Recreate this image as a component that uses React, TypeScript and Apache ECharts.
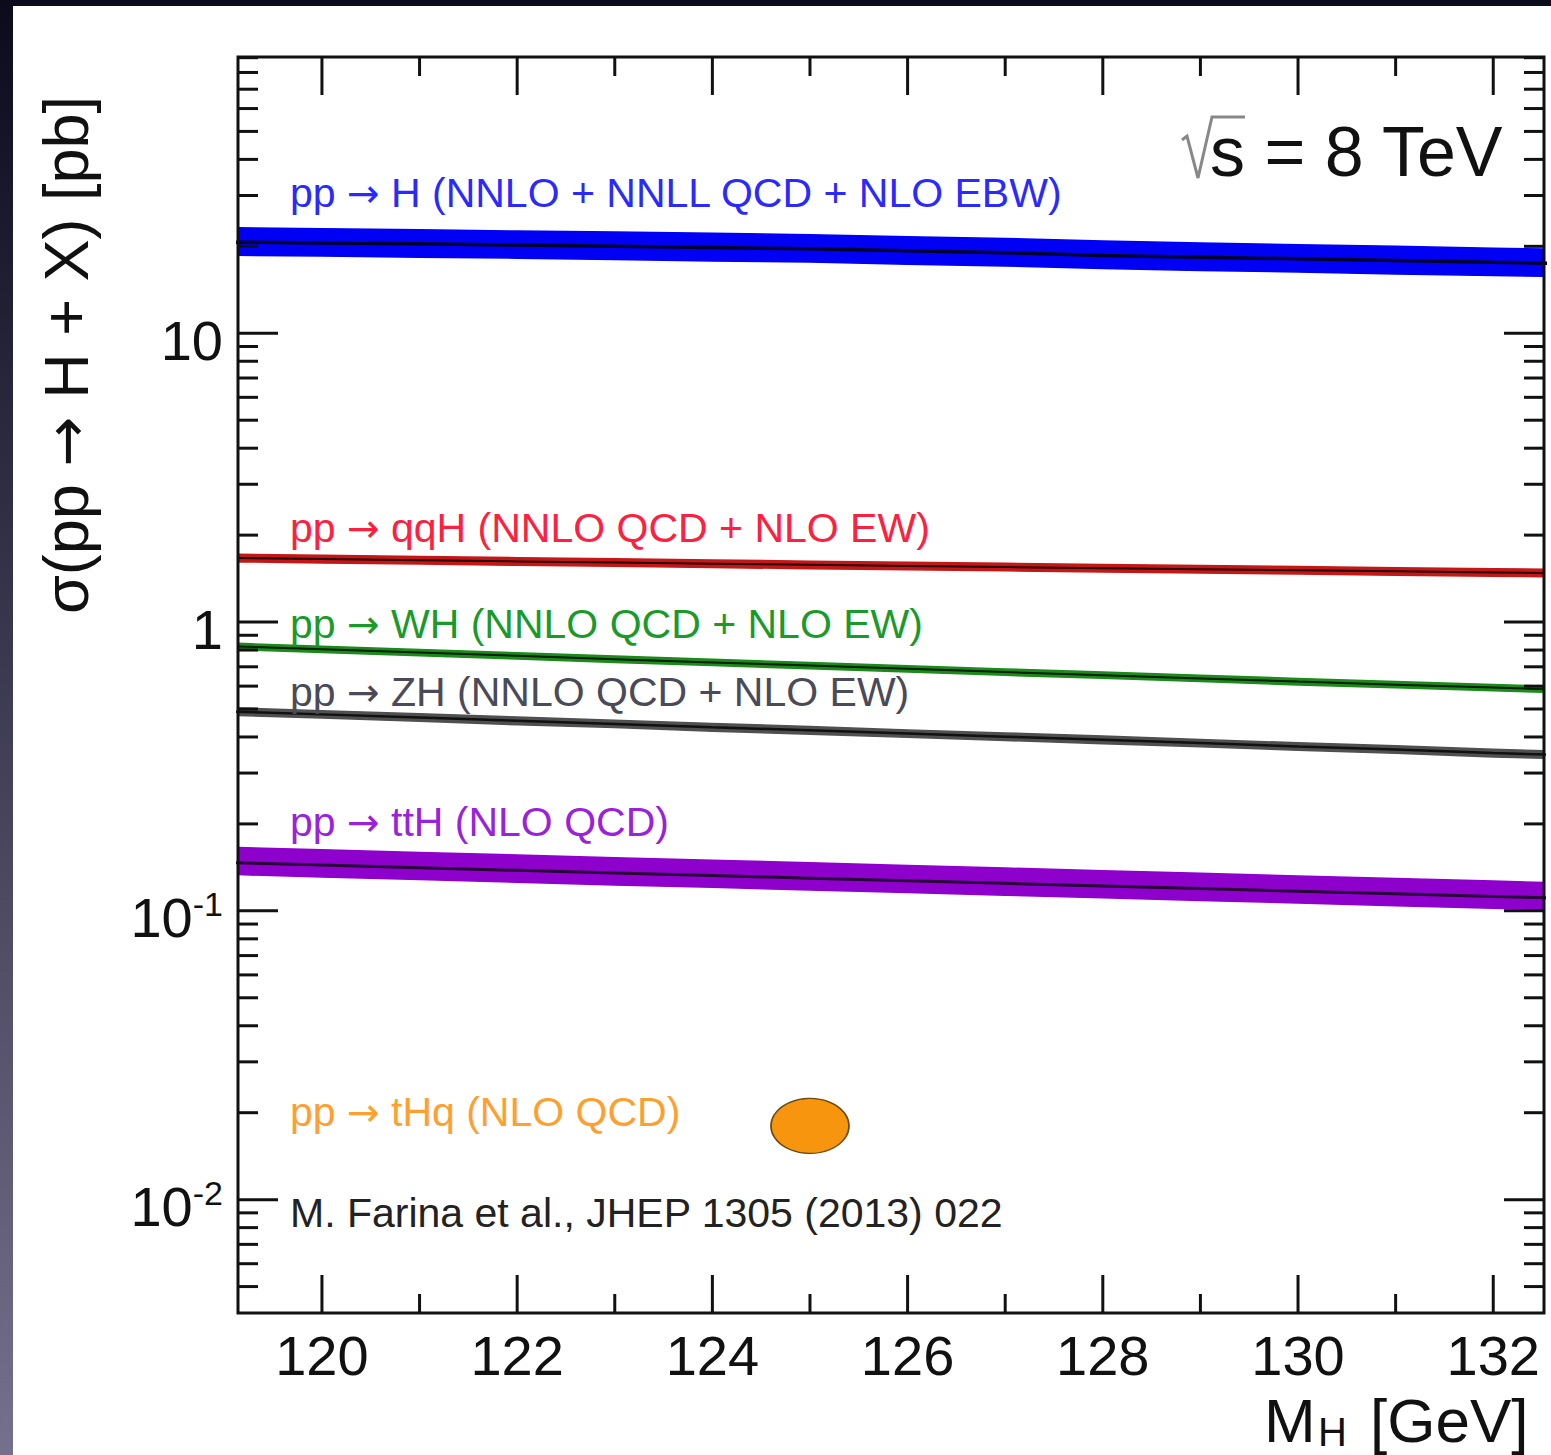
import React, { useEffect, useRef } from "react";
import * as echarts from "echarts";

const FONT = '"Liberation Sans", Arial, Helvetica, sans-serif';
const ARROW_FONT = '"DejaVu Sans", sans-serif';

// Higgs mass points [GeV]
const masses = [119, 120, 121, 122, 123, 124, 125, 126, 127, 128, 129, 130, 131, 132, 133];

// pp -> H (gluon fusion) [pb]
const ggH = [20.7, 20.55, 20.4, 20.2, 20.0, 19.8, 19.6, 19.3, 19.0, 18.6, 18.35, 18.1, 17.85, 17.6, 17.4];
const ggHUp = [23.2, 23.0, 22.85, 22.6, 22.4, 22.2, 21.95, 21.6, 21.3, 20.85, 20.55, 20.25, 20.0, 19.7, 19.5];
const ggHDown = [18.65, 18.5, 18.35, 18.2, 18.0, 17.8, 17.65, 17.35, 17.1, 16.75, 16.5, 16.3, 16.05, 15.85, 15.65];

// pp -> qqH [pb]
const qqH = [1.668, 1.652, 1.637, 1.622, 1.607, 1.592, 1.578, 1.564, 1.551, 1.537, 1.524, 1.511, 1.498, 1.486, 1.474];
const qqHUp = [1.718, 1.702, 1.686, 1.671, 1.655, 1.64, 1.625, 1.611, 1.598, 1.583, 1.57, 1.556, 1.543, 1.531, 1.518];
const qqHDown = [1.618, 1.602, 1.588, 1.573, 1.559, 1.544, 1.531, 1.517, 1.504, 1.491, 1.478, 1.466, 1.453, 1.441, 1.43];

// pp -> WH [pb]
const WH = [0.826, 0.805, 0.784, 0.764, 0.744, 0.725, 0.707, 0.689, 0.671, 0.655, 0.638, 0.622, 0.607, 0.593, 0.579];
const WHUp = [0.847, 0.825, 0.804, 0.783, 0.763, 0.743, 0.725, 0.706, 0.688, 0.671, 0.654, 0.638, 0.622, 0.608, 0.593];
const WHDown = [0.805, 0.785, 0.764, 0.745, 0.725, 0.707, 0.689, 0.672, 0.654, 0.639, 0.622, 0.606, 0.592, 0.578, 0.565];

// pp -> ZH [pb]
const ZH = [0.491, 0.479, 0.467, 0.455, 0.444, 0.432, 0.422, 0.411, 0.401, 0.391, 0.381, 0.371, 0.362, 0.352, 0.344];
const ZHUp = [0.506, 0.493, 0.481, 0.469, 0.457, 0.445, 0.435, 0.423, 0.413, 0.403, 0.392, 0.382, 0.373, 0.363, 0.354];
const ZHDown = [0.476, 0.465, 0.453, 0.441, 0.431, 0.419, 0.409, 0.399, 0.389, 0.379, 0.37, 0.36, 0.351, 0.341, 0.334];

// pp -> ttH [pb]
const ttH = [0.1471, 0.144, 0.141, 0.1381, 0.1352, 0.1325, 0.1298, 0.1271, 0.1245, 0.1219, 0.1194, 0.1169, 0.1145, 0.1122, 0.1099];
const ttHUp = [0.1662, 0.1627, 0.1593, 0.1561, 0.1528, 0.1497, 0.1467, 0.1436, 0.1407, 0.1377, 0.1349, 0.1321, 0.1294, 0.1268, 0.1242];
const ttHDown = [0.1339, 0.131, 0.1283, 0.1257, 0.123, 0.1206, 0.1181, 0.1157, 0.1133, 0.1109, 0.1087, 0.1064, 0.1042, 0.1021, 0.1];

// pp -> tHq single point [GeV, pb]
const tHq = [[125, 0.018]];

// axes
const X_MIN = 119.14;
const X_MAX = 132.52;
const Y_MIN = 0.00405;
const Y_MAX = 90.5;
const xMajorTicks = [120, 122, 124, 126, 128, 130, 132];
const xTickLabels = ["120", "122", "124", "126", "128", "130", "132"];
const xMinorTicks = [121, 123, 125, 127, 129, 131];
const yMajorTicks = [0.01, 0.1, 1, 10];
const yTickBase = ["10", "10", "1", "10"];
const yTickExp = ["-2", "-1", "", ""];
const yMinorTicks = [
  0.005, 0.006, 0.007, 0.008, 0.009,
  0.02, 0.03, 0.04, 0.05, 0.06, 0.07, 0.08, 0.09,
  0.2, 0.3, 0.4, 0.5, 0.6, 0.7, 0.8, 0.9,
  2, 3, 4, 5, 6, 7, 8, 9,
  20, 30, 40, 50, 60, 70, 80, 90,
];

const TICK = "#111";

function bandSeries(name: string, up: number[], down: number[], fill: string) {
  return {
    type: "custom",
    name,
    z: 2,
    clip: true,
    silent: true,
    data: masses.map((m, i) => [m, up[i]]),
    renderItem: (params: any, api: any) => {
      if (params.dataIndex !== 0) return null;
      const pts: number[][] = [];
      for (let i = 0; i < masses.length; i++) pts.push(api.coord([masses[i], up[i]]));
      for (let i = masses.length - 1; i >= 0; i--) pts.push(api.coord([masses[i], down[i]]));
      return {
        type: "polygon",
        shape: { points: pts },
        style: { fill, stroke: fill, lineWidth: 1.5, opacity: 1 },
      };
    },
  };
}

function centralLine(name: string, vals: number[], color: string, width: number) {
  return {
    type: "line",
    name,
    z: 3,
    silent: true,
    symbol: "none",
    clip: true,
    data: masses.map((m, i) => [m, vals[i]]),
    lineStyle: { color, width },
  };
}

function xTickSeries(values: number[], len: number, withLabels: boolean) {
  return {
    type: "custom",
    z: 6,
    silent: true,
    data: values.map((v) => [v, 1]),
    renderItem: (params: any, api: any) => {
      const cs = params.coordSys;
      const x = api.coord([api.value(0), 1])[0];
      const b = cs.y + cs.height;
      const t = cs.y;
      const children: any[] = [
        { type: "line", shape: { x1: x, y1: b, x2: x, y2: b - len }, style: { stroke: TICK, lineWidth: 3 } },
        { type: "line", shape: { x1: x, y1: t, x2: x, y2: t + len }, style: { stroke: TICK, lineWidth: 3 } },
      ];
      if (withLabels) {
        children.push({
          type: "text",
          style: {
            text: xTickLabels[params.dataIndex],
            x,
            y: b + 42,
            align: "center",
            verticalAlign: "middle",
            fontSize: 56,
            lineHeight: 56,
            fontFamily: FONT,
            fill: "#111",
          },
        });
      }
      return { type: "group", children };
    },
  };
}

function yTickSeries(values: number[], len: number, withLabels: boolean) {
  return {
    type: "custom",
    z: 6,
    silent: true,
    data: values.map((v) => [X_MIN, v]),
    renderItem: (params: any, api: any) => {
      const cs = params.coordSys;
      const y = api.coord([X_MIN, api.value(1)])[1];
      const l = cs.x;
      const r = cs.x + cs.width;
      const children: any[] = [
        { type: "line", shape: { x1: l, y1: y, x2: l + len, y2: y }, style: { stroke: TICK, lineWidth: 3 } },
        { type: "line", shape: { x1: r, y1: y, x2: r - len, y2: y }, style: { stroke: TICK, lineWidth: 3 } },
      ];
      if (withLabels) {
        const i = params.dataIndex;
        const exp = yTickExp[i];
        children.push({
          type: "text",
          style: {
            text: exp ? `{b|${yTickBase[i]}}{s|${exp}}` : `{b|${yTickBase[i]}}`,
            rich: {
              b: { fontSize: 56, fontFamily: FONT, fill: "#111", lineHeight: 62 },
              s: { fontSize: 34, fontFamily: FONT, fill: "#111", verticalAlign: "top", lineHeight: 40 },
            },
            x: l - 15,
            y: y + 7,
            align: "right",
            verticalAlign: "middle",
            fill: "#111",
          },
        });
      }
      return { type: "group", children };
    },
  };
}

// process label: "pp → <rest>" with a wider arrow glyph
function procLabel(rest: string, y: number, fill: string, size = 41) {
  return {
    type: "text",
    x: 290,
    y,
    z: 20,
    silent: true,
    style: {
      text: `{t|pp }{a|→}{t| ${rest}}`,
      rich: {
        t: { fontSize: size, fontFamily: FONT, fill },
        a: { fontSize: size * 0.95, fontFamily: ARROW_FONT, fill },
      },
      fill,
      align: "left",
      verticalAlign: "middle",
    },
  };
}

function label(text: string, x: number, y: number, fill: string, size = 41) {
  return {
    type: "text",
    x,
    y,
    z: 20,
    silent: true,
    style: { text, fill, fontSize: size, lineHeight: size, fontFamily: FONT, align: "left", verticalAlign: "middle" },
  };
}

export default function App() {
  const ref = useRef<HTMLDivElement>(null);

  useEffect(() => {
    if (!ref.current) return;
    const chart = echarts.init(ref.current, undefined, { renderer: "svg" });
    const option: any = {
      animation: false,
      backgroundColor: "transparent",
      grid: { left: 238, top: 57, right: 7, bottom: 142, show: false },
      xAxis: {
        type: "value",
        min: X_MIN,
        max: X_MAX,
        axisLine: { show: false },
        axisTick: { show: false },
        axisLabel: { show: false },
        splitLine: { show: false },
      },
      yAxis: {
        type: "log",
        logBase: 10,
        min: Y_MIN,
        max: Y_MAX,
        axisLine: { show: false },
        axisTick: { show: false },
        axisLabel: { show: false },
        splitLine: { show: false },
        minorTick: { show: false },
      },
      series: [
        bandSeries("ggH band", ggHUp, ggHDown, "#0000f5"),
        bandSeries("qqH band", qqHUp, qqHDown, "#c41818"),
        bandSeries("WH band", WHUp, WHDown, "#1e8a1e"),
        bandSeries("ZH band", ZHUp, ZHDown, "#505050"),
        bandSeries("ttH band", ttHUp, ttHDown, "#8e00cc"),
        centralLine("ggH", ggH, "#000030", 3.5),
        centralLine("qqH", qqH, "#2a0000", 2),
        centralLine("WH", WH, "#002000", 2),
        centralLine("ZH", ZH, "#111111", 2.5),
        centralLine("ttH", ttH, "#2a0038", 3),
        {
          type: "scatter",
          name: "tHq",
          z: 4,
          silent: true,
          data: tHq,
          symbol: "circle",
          symbolSize: [78, 55],
          itemStyle: { color: "#f7960e", borderColor: "#6b4a10", borderWidth: 1.5, opacity: 1 },
        },
        xTickSeries(xMajorTicks, 38, true),
        xTickSeries(xMinorTicks, 19, false),
        yTickSeries(yMajorTicks, 40, true),
        yTickSeries(yMinorTicks, 20, false),
      ],
      graphic: [
        {
          type: "rect",
          z: 30,
          silent: true,
          shape: { x: 238, y: 57, width: 1306, height: 1256 },
          style: { fill: "none", stroke: "#111", lineWidth: 3 },
        },
        procLabel("H (NNLO + NNLL QCD + NLO EBW)", 193, "#2a2aff"),
        procLabel("qqH (NNLO QCD + NLO EW)", 528, "#ff2040"),
        procLabel("WH (NNLO QCD + NLO EW)", 624, "#1a9a2a"),
        procLabel("ZH (NNLO QCD + NLO EW)", 692, "#4a4a58"),
        procLabel("ttH (NLO QCD)", 822, "#9a22dd"),
        procLabel("tHq (NLO QCD)", 1112, "#ff9f30"),
        label("M. Farina et al., JHEP 1305 (2013) 022", 290, 1213, "#222"),
        {
          type: "text",
          x: 66,
          y: 355,
          rotation: Math.PI / 2,
          z: 20,
          silent: true,
          style: {
            text: "{t|σ(pp }{a|→}{t| H + X) [pb]}",
            rich: {
              t: { fontSize: 63, fontFamily: FONT, fill: "#111" },
              a: { fontSize: 60, fontFamily: ARROW_FONT, fill: "#111" },
            },
            fill: "#111",
            align: "center",
            verticalAlign: "middle",
          },
        },
        {
          type: "polyline",
          z: 20,
          silent: true,
          shape: { points: [[1182, 140], [1187, 136], [1198, 178], [1212, 117], [1245, 117]] },
          style: { stroke: "#888", lineWidth: 3, fill: "none" },
        },
        label("s = 8 TeV", 1210, 152, "#111", 70),
        label("M", 1264, 1420, "#111", 62),
        label("H", 1318, 1432, "#111", 40),
        label("[GeV]", 1370, 1420, "#111", 62),
      ],
    };
    chart.setOption(option);
    return () => chart.dispose();
  }, []);

  return (
    <div
      style={{
        position: "absolute",
        left: 0,
        top: 0,
        width: 1551,
        height: 1455,
        overflow: "hidden",
        background: "linear-gradient(to bottom, #0b0b1c, #75708c)",
      }}
    >
      <div style={{ position: "absolute", left: 13, top: 6, right: 0, bottom: 0, background: "#ffffff" }} />
      <div ref={ref} style={{ position: "absolute", left: 0, top: 0, width: 1551, height: 1455 }} />
    </div>
  );
}
